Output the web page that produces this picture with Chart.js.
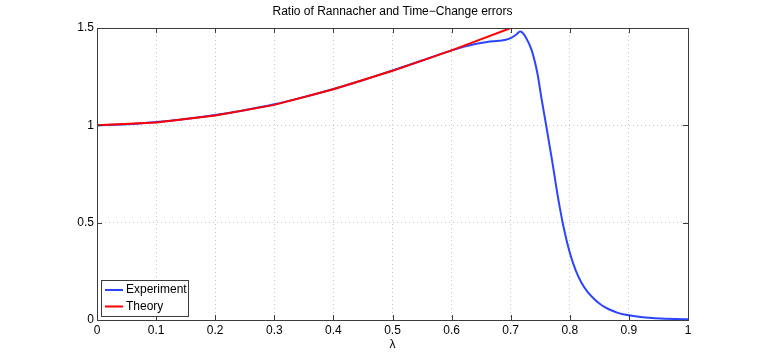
<!DOCTYPE html>
<html>
<head>
<meta charset="utf-8">
<script src="https://cdn.jsdelivr.net/npm/chart.js@4.4.1/dist/chart.umd.min.js"></script>
<style>
  html, body { margin: 0; padding: 0; background: #fff; }
  #wrap { width: 761px; height: 360px; }
</style>
</head>
<body>
<div id="wrap"><canvas id="chart" width="761" height="360"></canvas></div>
<script>
const chartTitle = "Ratio of Rannacher and Time\u2212Change errors";
const xLabel = "\u03bb";

const xTicks = [0, 0.1, 0.2, 0.3, 0.4, 0.5, 0.6, 0.7, 0.8, 0.9, 1];
const yTicks = [0, 0.5, 1, 1.5];

const xExperiment = [0, 0.05, 0.1, 0.15, 0.2, 0.25, 0.3, 0.35, 0.4, 0.45, 0.5, 0.55, 0.6,
  0.62, 0.64, 0.66, 0.68, 0.69, 0.7, 0.71, 0.716, 0.72, 0.725, 0.735, 0.745, 0.752, 0.76,
  0.77, 0.78, 0.79, 0.8, 0.81, 0.82, 0.83, 0.84, 0.85, 0.86, 0.87, 0.88, 0.89, 0.9,
  0.92, 0.94, 0.96, 0.98, 1];
const yExperiment = [1.0, 1.005, 1.017, 1.033, 1.053, 1.078, 1.108, 1.145, 1.187, 1.232, 1.282, 1.333, 1.385,
  1.403, 1.418, 1.428, 1.434, 1.438, 1.448, 1.468, 1.482, 1.476, 1.455, 1.39, 1.27, 1.14, 1.0,
  0.82, 0.63, 0.47, 0.345, 0.255, 0.19, 0.145, 0.112, 0.085, 0.065, 0.05, 0.038, 0.03, 0.024,
  0.015, 0.01, 0.007, 0.005, 0.004];

const xTheory = [0, 0.1, 0.2, 0.3, 0.4, 0.5, 0.6, 0.7];
const yTheory = [1.0, 1.015, 1.05, 1.105, 1.185, 1.28, 1.385, 1.5];

const FONT = "'Liberation Sans', Arial, Helvetica, sans-serif";
const AXIS_COLOR = "#3c3c3c";

function pairs(xs, ys) {
  return xs.map((x, i) => ({ x: x, y: ys[i] }));
}

function fmt(v) {
  return String(+v.toFixed(2));
}

const boxAndTicks = {
  id: "boxAndTicks",
  afterDraw(chart) {
    const { ctx, chartArea: a, scales } = chart;
    const len = 5;
    ctx.save();
    ctx.strokeStyle = AXIS_COLOR;
    ctx.lineWidth = 1;
    ctx.beginPath();
    xTicks.forEach((v) => {
      const px = Math.round(scales.x.getPixelForValue(v)) + 0.5;
      ctx.moveTo(px, a.bottom);
      ctx.lineTo(px, a.bottom - len);
      ctx.moveTo(px, a.top);
      ctx.lineTo(px, a.top + len);
    });
    yTicks.forEach((v) => {
      const py = Math.round(scales.y.getPixelForValue(v)) + 0.5;
      ctx.moveTo(a.left, py);
      ctx.lineTo(a.left + len, py);
      ctx.moveTo(a.right, py);
      ctx.lineTo(a.right - len, py);
    });
    ctx.stroke();
    ctx.strokeRect(Math.round(a.left) + 0.5, Math.round(a.top) + 0.5,
      Math.round(a.right - a.left), Math.round(a.bottom - a.top));

    // title
    ctx.fillStyle = "#000";
    ctx.font = "12px " + FONT;
    ctx.textAlign = "center";
    ctx.textBaseline = "middle";
    ctx.fillText(chartTitle, (a.left + a.right) / 2, 12);

    // legend box in lower-left corner of the axes
    const lx = a.left + 4, ly = a.bottom - 40, lw = 87, lh = 36;
    ctx.fillStyle = "#fff";
    ctx.fillRect(lx, ly, lw, lh);
    ctx.strokeStyle = AXIS_COLOR;
    ctx.strokeRect(lx + 0.5, ly + 0.5, lw, lh);
    ctx.textAlign = "left";
    chart.data.datasets.forEach((ds, i) => {
      const cy = ly + 10 + i * 16.5;
      ctx.strokeStyle = ds.borderColor;
      ctx.lineWidth = 2;
      ctx.beginPath();
      ctx.moveTo(lx + 4, cy);
      ctx.lineTo(lx + 22, cy);
      ctx.stroke();
      ctx.fillStyle = "#000";
      ctx.fillText(ds.label, lx + 25, cy);
    });
    ctx.restore();
  }
};

new Chart(document.getElementById("chart").getContext("2d"), {
  type: "line",
  data: {
    datasets: [
      {
        label: "Experiment",
        data: pairs(xExperiment, yExperiment),
        borderColor: "#2b45ff",
        borderWidth: 2,
        pointRadius: 0,
        cubicInterpolationMode: "monotone",
        order: 1
      },
      {
        label: "Theory",
        data: pairs(xTheory, yTheory),
        borderColor: "#ff0000",
        borderWidth: 2,
        pointRadius: 0,
        tension: 0,
        order: 0
      }
    ]
  },
  options: {
    responsive: false,
    animation: false,
    devicePixelRatio: 1,
    layout: { padding: { top: 28, right: 73, left: 0, bottom: 0 } },
    plugins: {
      legend: { display: false },
      title: { display: false },
      tooltip: { enabled: false }
    },
    scales: {
      x: {
        type: "linear",
        min: 0,
        max: 1,
        afterBuildTicks: (s) => { s.ticks = xTicks.map((v) => ({ value: v })); },
        afterFit: (s) => { s.height = 40; },
        ticks: {
          autoSkip: false,
          maxRotation: 0,
          padding: 3,
          color: "#000",
          font: { family: FONT, size: 12 },
          callback: (v) => fmt(v)
        },
        grid: { color: "#c4c4c4", drawTicks: false },
        border: { display: false, dash: [1, 3] },
        title: {
          display: true,
          text: xLabel,
          color: "#000",
          font: { family: FONT, size: 12 },
          padding: { top: 0, bottom: 8 }
        }
      },
      y: {
        type: "linear",
        min: 0,
        max: 1.5,
        afterBuildTicks: (s) => { s.ticks = yTicks.map((v) => ({ value: v })); },
        afterFit: (s) => { s.width = 97; },
        ticks: {
          autoSkip: false,
          padding: 3,
          color: "#000",
          font: { family: FONT, size: 12 },
          callback: (v) => fmt(v)
        },
        grid: { color: "#c4c4c4", drawTicks: false },
        border: { display: false, dash: [1, 3] }
      }
    }
  },
  plugins: [boxAndTicks]
});
</script>
</body>
</html>
